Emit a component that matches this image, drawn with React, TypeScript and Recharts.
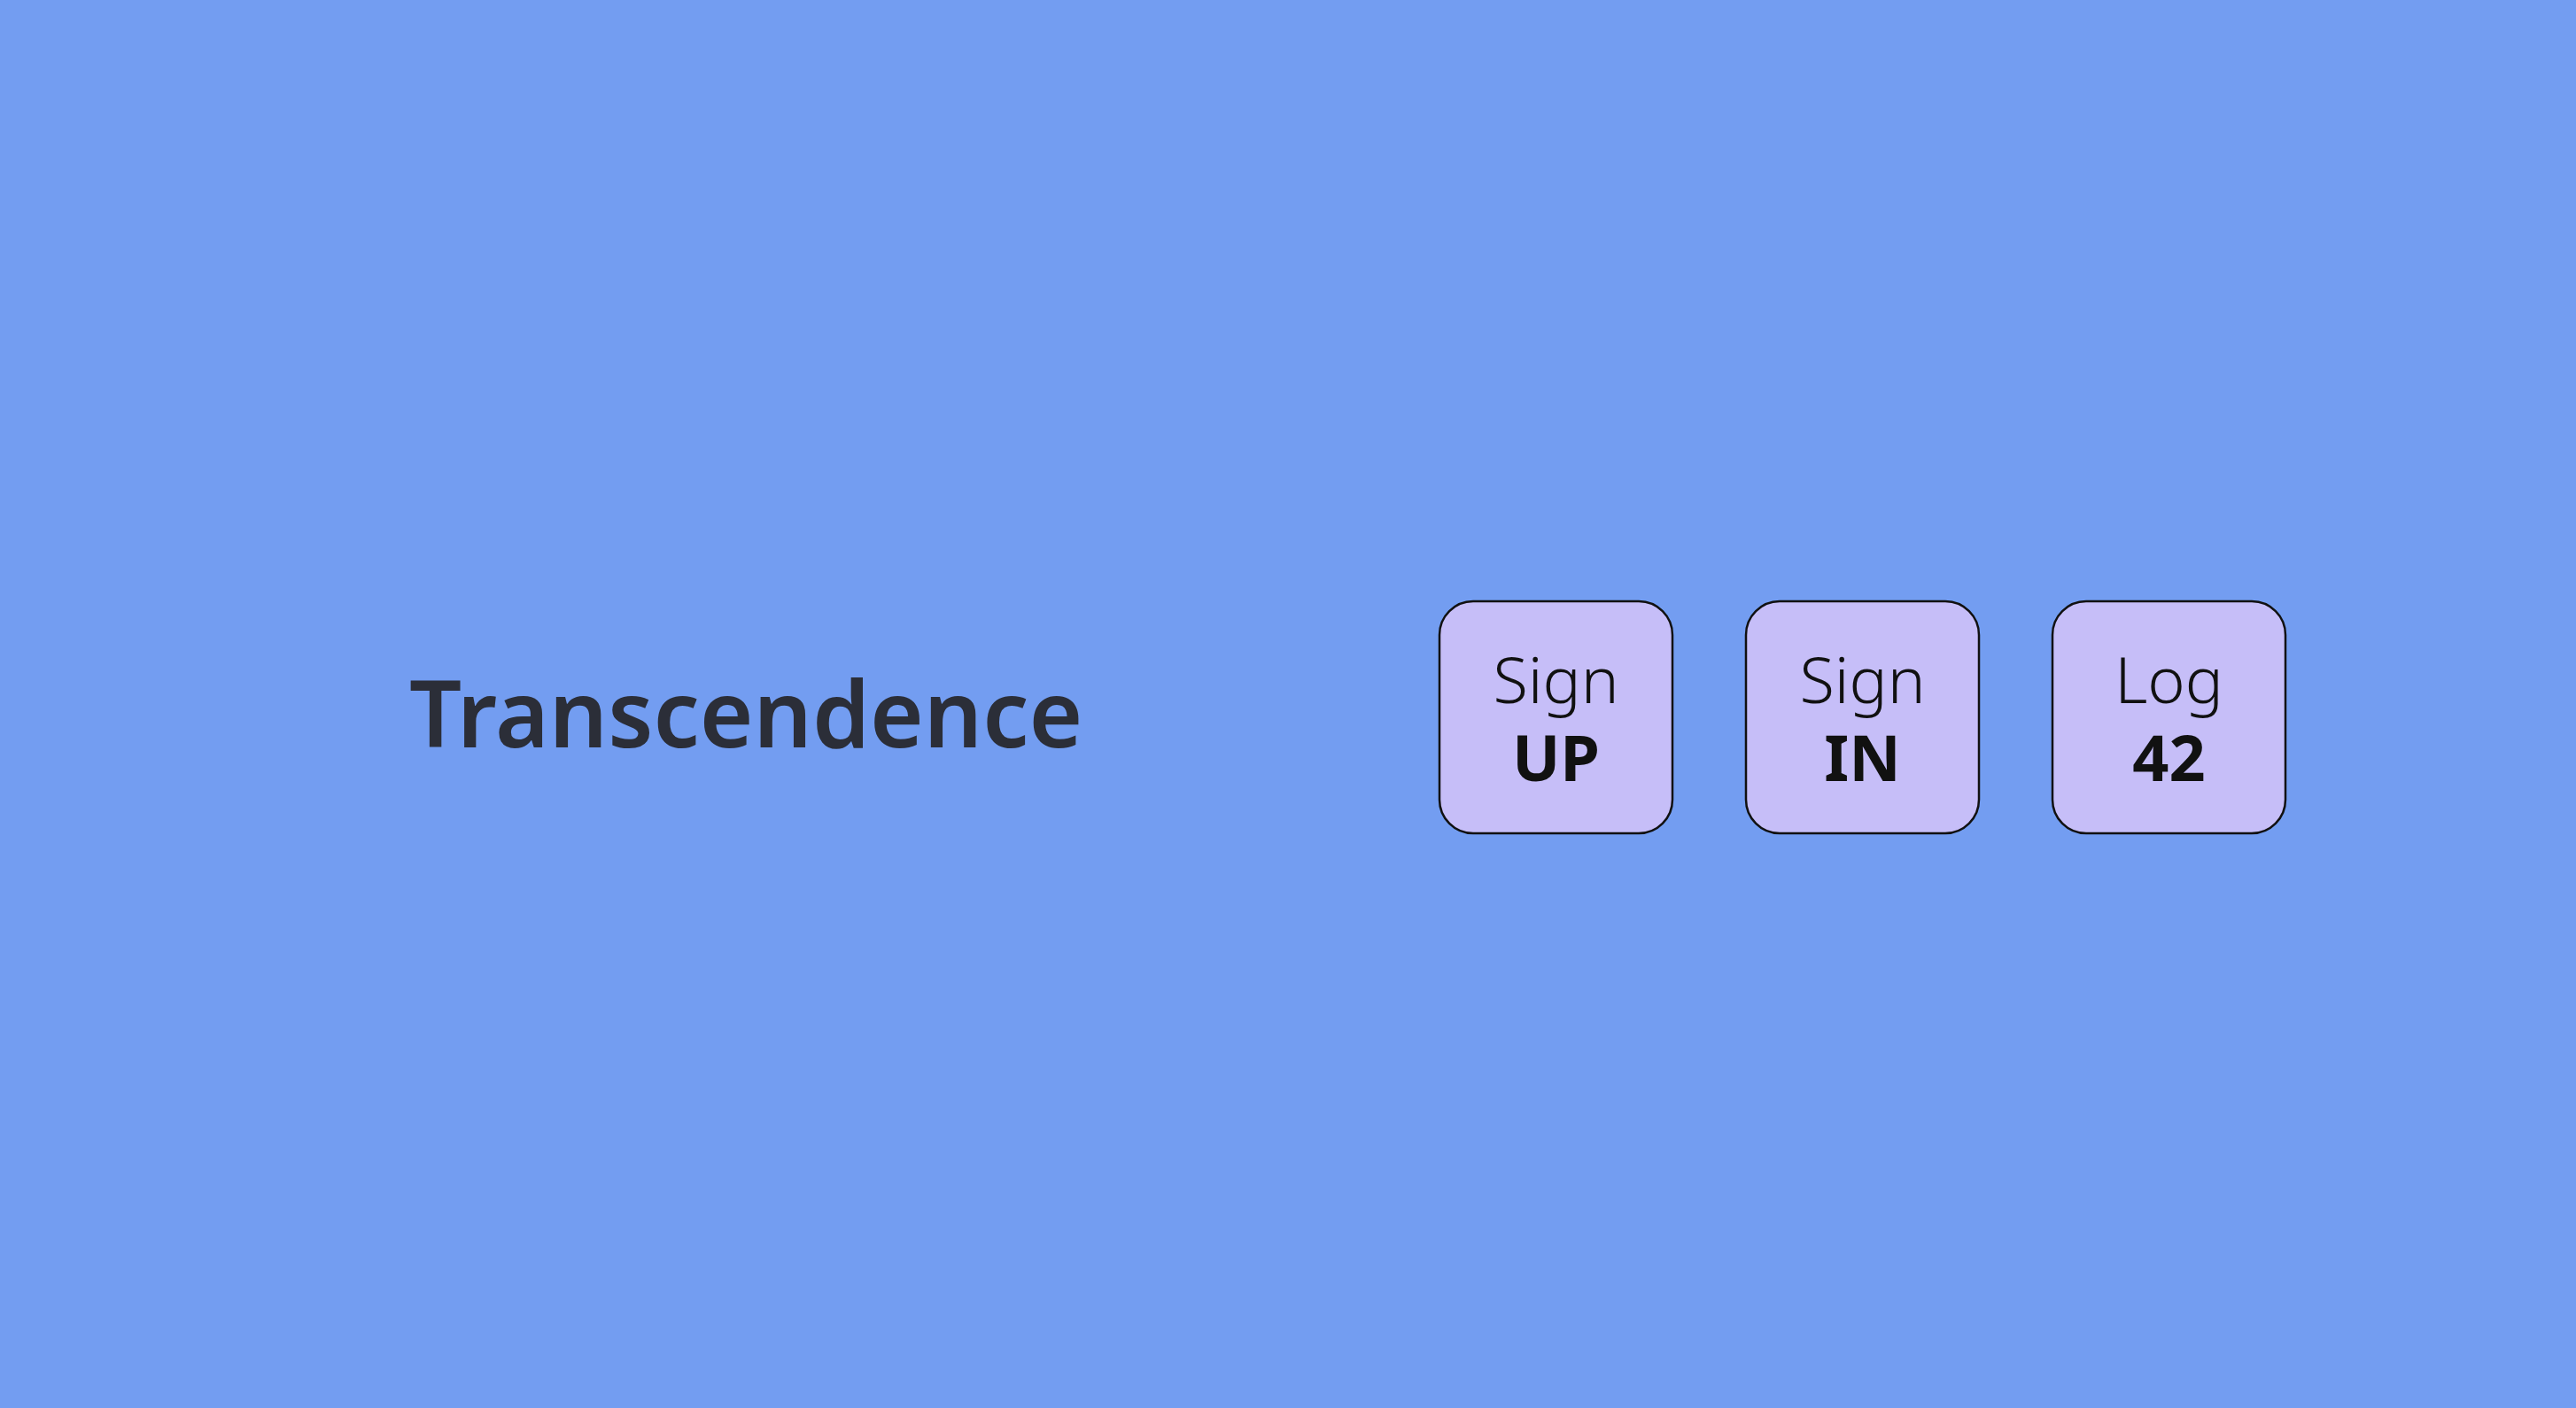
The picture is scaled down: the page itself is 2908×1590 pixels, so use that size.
import React from "react";
import { BarChart, Bar, XAxis, YAxis, Customized } from "recharts";

const categories = ["signup", "signin", "log"];
const topLabels = ["Sign", "Sign", "Log"];
const bottomLabels = ["UP", "IN", "42"];
const values = [1, 1, 1];
const title = "Transcendence";

const data = categories.map((c, i) => ({ key: c, value: values[i], top: topLabels[i], bottom: bottomLabels[i] }));

const ButtonShape = (props: any) => {
  const { x, y, width, height, payload } = props;
  const cx = x + width / 2;
  return (
    <g>
      <rect x={x} y={y} width={width} height={height} rx={38} ry={38} fill="#C6BEF8" stroke="#111" strokeWidth={2.5} />
      <text x={cx} y={y + 115} textAnchor="middle" fontFamily="'Noto Sans', 'Open Sans', sans-serif" fontWeight={300} fontSize={72} fill="#111">
        {payload.top}
      </text>
      <text x={cx} y={y + 203} textAnchor="middle" fontFamily="'Noto Sans', 'Open Sans', sans-serif" fontWeight={700} fontSize={72} fill="#111">
        {payload.bottom}
      </text>
    </g>
  );
};

const Title = () => (
  <text x={462} y={844} fontFamily="'Noto Sans', 'Open Sans', sans-serif" fontWeight={600} fontSize={104} fill="#2B2E38">
    {title}
  </text>
);

export default function App() {
  return (
    <div style={{ position: "absolute", left: 0, top: 0, width: 2908, height: 1590, background: "#739DF1", overflow: "hidden" }}>
      <BarChart width={2908} height={1590} data={data} margin={{ left: 1583, right: 287, top: 679, bottom: 649 }} barSize={263}>
        <XAxis dataKey="key" hide />
        <YAxis hide domain={[0, 1]} />
        <Bar dataKey="value" isAnimationActive={false} shape={ButtonShape} />
        <Customized component={Title} />
      </BarChart>
    </div>
  );
}
